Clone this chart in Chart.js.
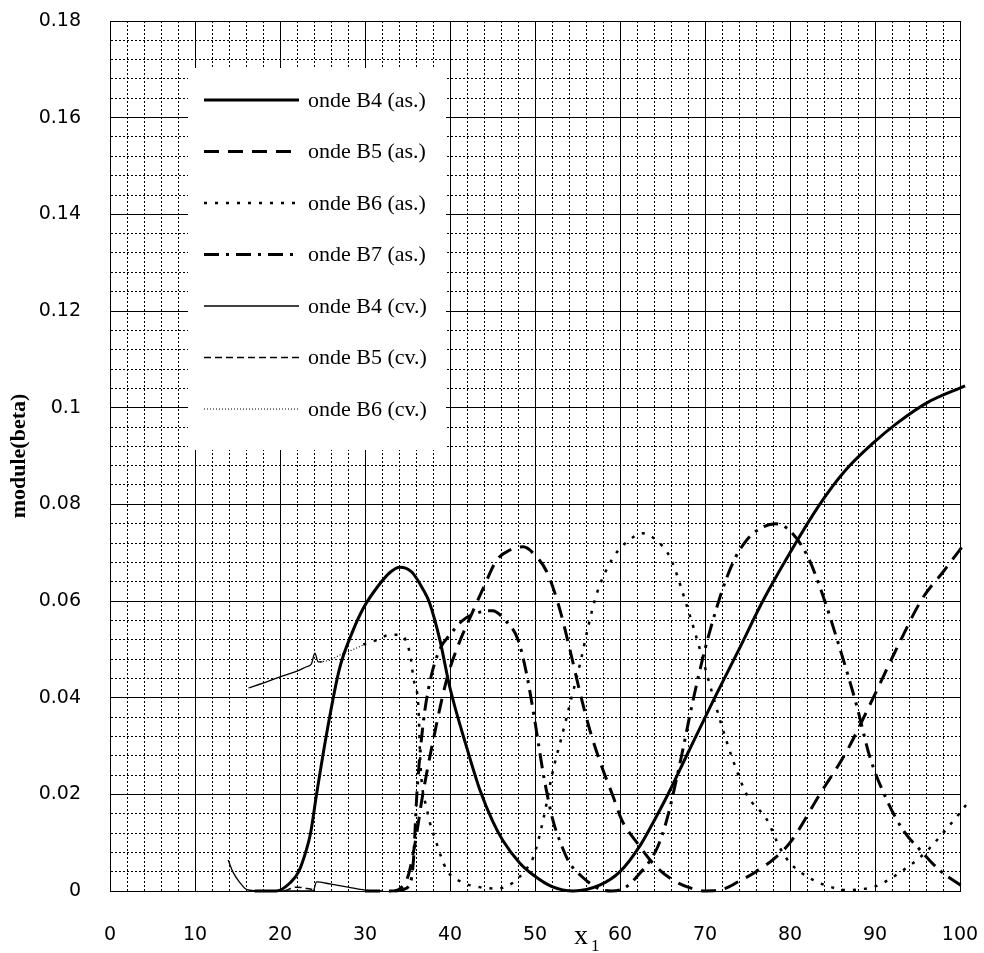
<!DOCTYPE html>
<html>
<head>
<meta charset="utf-8">
<script src="https://cdn.jsdelivr.net/npm/chart.js@4"></script>
<style>
  html, body { margin: 0; padding: 0; background: #fff; }
</style>
</head>
<body>
<canvas id="chart" width="984" height="953"></canvas>
<script>
// Curve samples (x1, module(beta))
const b4asX = [17, 19.6, 21.2, 22.2, 23.1, 23.6, 24.3, 25.5, 27, 28.5, 29.8, 31.5, 33, 34.1, 35.5, 36.8, 37.6, 38.8, 40, 42, 43.5, 45, 46.2, 48.2, 49.8, 52, 54.5, 57.6, 60, 62.4, 64, 65.5, 68, 71, 74, 76.8, 80, 83.5, 86.5, 89.8, 92.6, 96.1, 100.6];
const b4asY = [0, 0, 0.0017, 0.004, 0.0085, 0.012, 0.020, 0.0327, 0.046, 0.0535, 0.0585, 0.063, 0.066, 0.067, 0.066, 0.0625, 0.0596, 0.052, 0.042, 0.0295, 0.021, 0.0145, 0.0105, 0.0058, 0.0033, 0.0009, 0, 0.0012, 0.004, 0.0095, 0.0145, 0.0195, 0.0286, 0.0395, 0.050, 0.060, 0.070, 0.080, 0.087, 0.0927, 0.0968, 0.101, 0.1045];

const b5asX = [30, 33, 34.9, 35.8, 36.8, 38, 39.6, 41, 42.4, 44, 45.5, 47, 48.6, 50, 51.4, 52.8, 54.1, 55.3, 56.5, 57.8, 59.2, 60.2, 62, 64, 66, 68, 70, 72, 74, 76, 78, 80, 83.5, 86.7, 89.8, 92.5, 95.6, 98, 100.8];
const b5asY = [0, 0, 0.0023, 0.009, 0.020, 0.031, 0.0437, 0.051, 0.0567, 0.063, 0.0685, 0.0705, 0.0712, 0.0695, 0.066, 0.059, 0.050, 0.041, 0.033, 0.026, 0.0195, 0.0147, 0.010, 0.0055, 0.0025, 0.0008, 0, 0.0003, 0.002, 0.004, 0.0065, 0.010, 0.020, 0.029, 0.040, 0.050, 0.0606, 0.066, 0.0725];

const b6asX = [29.8, 31.5, 32.9, 34.1, 35.3, 35.7, 36.3, 36.5, 37.3, 38.4, 39.6, 41.6, 43.5, 45.5, 47.4, 48.7, 49.8, 51, 52, 53.3, 54.3, 55.3, 56.3, 57.3, 59.2, 61, 62.7, 64.3, 65.9, 67.9, 69.4, 71, 72, 73.3, 74.9, 77.3, 78.8, 80, 82.7, 84.5, 86.7, 88.5, 89.8, 91.5, 93.3, 95, 96.5, 98, 99.6, 100.8];
const b6asY = [0.051, 0.052, 0.053, 0.053, 0.049, 0.044, 0.0375, 0.027, 0.0168, 0.010, 0.0044, 0.0017, 0.0008, 0.0005, 0.0017, 0.004, 0.007, 0.015, 0.024, 0.033, 0.040, 0.047, 0.055, 0.0617, 0.069, 0.0725, 0.074, 0.0725, 0.069, 0.0588, 0.050, 0.040, 0.034, 0.027, 0.020, 0.0147, 0.009, 0.0058, 0.0023, 0.001, 0.0002, 0.0004, 0.0008, 0.0022, 0.0043, 0.0065, 0.009, 0.012, 0.0153, 0.018];

const b7asX = [33.5, 35.2, 35.7, 36.1, 36.8, 37.6, 38.8, 40, 41.5, 43.5, 45, 46.5, 48, 49, 50, 51, 52.1, 53, 54, 55.5, 57.5, 59, 60.4, 62, 64.4, 65.5, 67, 68.6, 70, 71.8, 73.3, 74.9, 76.5, 78.3, 80, 82, 83.5, 85.9, 87.9, 89.4, 91.4, 93.3, 95.3, 97.6, 100.4];
const b7asY = [0, 0.001, 0.0064, 0.020, 0.034, 0.043, 0.050, 0.053, 0.056, 0.0577, 0.058, 0.056, 0.052, 0.045, 0.035, 0.024, 0.0147, 0.010, 0.006, 0.003, 0.0005, 0, 0.0005, 0.003, 0.009, 0.0147, 0.026, 0.0395, 0.050, 0.061, 0.068, 0.0726, 0.075, 0.076, 0.0745, 0.0695, 0.063, 0.050, 0.038, 0.0277, 0.0188, 0.0126, 0.0085, 0.0043, 0.0008];

// B4 (cv.) is drawn in two separate pieces
const b4cvLowX = [13.9, 14.5, 15.3, 16.1, 18, 20, 22, 23.9, 24.3, 26, 28, 30, 32];
const b4cvLowY = [0.0064, 0.0038, 0.0017, 0.0003, 0, 0, 0, 0, 0.0019, 0.0014, 0.0008, 0.0002, 0];
const b4cvHighX = [16.3, 18, 20, 22, 23.1, 23.7, 24.1, 24.5, 25];
const b4cvHighY = [0.042, 0.043, 0.0443, 0.0455, 0.0464, 0.047, 0.0492, 0.0474, 0.0474];

const b5cvX = [20.5, 22, 23.8];
const b5cvY = [0, 0.0008, 0.0003];

const b6cvX = [24.7, 25.9, 27, 28, 29.8];
const b6cvY = [0.0474, 0.0478, 0.0488, 0.0495, 0.0509];

const seriesLabels = ['onde B4 (as.)', 'onde B5 (as.)', 'onde B6 (as.)', 'onde B7 (as.)', 'onde B4 (cv.)', 'onde B5 (cv.)', 'onde B6 (cv.)'];

const xTickStep = 2;    // minor grid every 2, labels every 10
const yTickStep = 0.004; // minor grid every 0.004, labels every 0.02

function pts(xs, ys) {
    return xs.map((x, i) => ({ x: x, y: ys[i] }));
}

const b4cvData = pts(b4cvLowX, b4cvLowY)
    .concat([{ x: b4cvLowX[b4cvLowX.length - 1], y: null }])
    .concat(pts(b4cvHighX, b4cvHighY));

function line(label, data, width, dash) {
    return {
        label: label,
        data: data,
        borderColor: '#000',
        backgroundColor: '#000',
        borderWidth: width,
        borderDash: dash,
        pointRadius: 0,
        fill: false,
        cubicInterpolationMode: 'monotone',
        clip: { left: 2, top: 2, right: 10, bottom: 3 }
    };
}

const datasets = [
    line(seriesLabels[0], pts(b4asX, b4asY), 3, []),
    line(seriesLabels[1], pts(b5asX, b5asY), 3, [15, 9]),
    line(seriesLabels[2], pts(b6asX, b6asY), 2.5, [3, 8]),
    line(seriesLabels[3], pts(b7asX, b7asY), 3, [15, 7, 3, 7]),
    line(seriesLabels[4], b4cvData, 1.3, []),
    line(seriesLabels[5], pts(b5cvX, b5cvY), 1.5, [7, 4]),
    line(seriesLabels[6], pts(b6cvX, b6cvY), 1.2, [1, 2])
];

// White legend panel sitting over the grid, top-left of the plot
const boxLegend = {
    id: 'boxLegend',
    beforeDatasetsDraw(chart) {
        const ctx = chart.ctx;
        ctx.save();
        ctx.fillStyle = '#fff';
        ctx.fillRect(188, 68, 258, 382);
        ctx.font = '22px "Liberation Serif", "Times New Roman", serif';
        ctx.textBaseline = 'middle';
        ctx.fillStyle = '#000';
        chart.data.datasets.forEach((ds, i) => {
            const y = 100 + i * 51.5;
            ctx.strokeStyle = ds.borderColor;
            ctx.lineWidth = ds.borderWidth;
            ctx.setLineDash(ds.borderDash);
            ctx.beginPath();
            ctx.moveTo(204, y);
            ctx.lineTo(299, y);
            ctx.stroke();
            ctx.setLineDash([]);
            ctx.fillText(ds.label, 308, y + 1);
        });
        ctx.restore();
    }
};

// x1 axis label sits on the tick-label row, between 50 and 60
const xLabel = {
    id: 'xLabel',
    afterDraw(chart) {
        const ctx = chart.ctx;
        ctx.save();
        ctx.fillStyle = '#000';
        ctx.textBaseline = 'alphabetic';
        ctx.font = '28px "Liberation Serif", serif';
        ctx.fillText('x', 574, 944);
        ctx.font = '17px "Liberation Serif", serif';
        ctx.fillText('1', 591, 951);
        ctx.restore();
    }
};

function noOverflow(s) {
    s.paddingTop = 0;
    s.paddingBottom = 0;
    s.paddingLeft = 0;
    s.paddingRight = 0;
}

const tickFont = { family: '"DejaVu Sans", sans-serif', size: 19 };

new Chart(document.getElementById('chart'), {
    type: 'line',
    data: { datasets: datasets },
    options: {
        responsive: false,
        animation: false,
        layout: { padding: { top: 21, right: 24, bottom: 0, left: 0 } },
        plugins: {
            legend: { display: false },
            tooltip: { enabled: false }
        },
        scales: {
            x: {
                type: 'linear',
                min: 0,
                max: 100,
                afterFit: (s) => { s.height = 62; noOverflow(s); },
                ticks: {
                    stepSize: xTickStep,
                    autoSkip: false,
                    maxRotation: 0,
                    padding: 33,
                    color: '#000',
                    font: tickFont,
                    callback: (v) => (Math.round(v) % 10 === 0 ? String(v) : '')
                },
                grid: { color: '#000', lineWidth: 1, drawTicks: false },
                border: {
                    color: '#000',
                    width: 1,
                    dash: (c) => (c.tick && Math.round(c.tick.value) % 10 !== 0 ? [2, 2] : [])
                }
            },
            y: {
                type: 'linear',
                min: 0,
                max: 0.18,
                afterFit: (s) => { s.width = 110; noOverflow(s); },
                ticks: {
                    stepSize: yTickStep,
                    autoSkip: false,
                    padding: 29,
                    color: '#000',
                    font: tickFont,
                    callback: (v) => (Math.round(v * 1000) % 20 === 0 ? String(+v.toFixed(2)) : '')
                },
                grid: { color: '#000', lineWidth: 1, drawTicks: false },
                border: {
                    color: '#000',
                    width: 1,
                    dash: (c) => (c.tick && Math.round(c.tick.value * 1000) % 20 !== 0 ? [2, 2] : [])
                },
                title: {
                    display: true,
                    text: 'module(beta)',
                    color: '#000',
                    font: { family: '"Liberation Serif", "Times New Roman", serif', size: 22, weight: 'bold' },
                    padding: { top: 6, bottom: 0 }
                }
            }
        }
    },
    plugins: [boxLegend, xLabel]
});
</script>
</body>
</html>
